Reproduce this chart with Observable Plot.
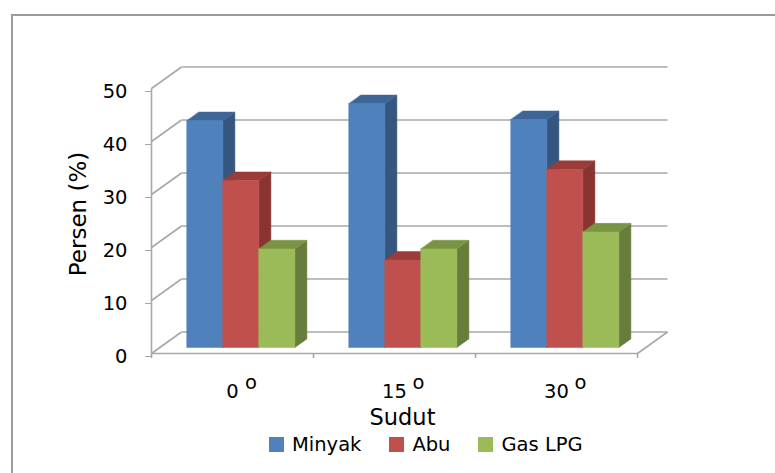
<!DOCTYPE html>
<html><head><meta charset="utf-8">
<script src="https://cdn.jsdelivr.net/npm/d3@7"></script>
<script src="https://cdn.jsdelivr.net/npm/@observablehq/plot@0.6"></script>
<style>
body{margin:0;background:#fff;}
#wrap{position:relative;width:775px;height:473px;overflow:hidden;font-family:"DejaVu Sans",sans-serif;background:#fff;}
#border{position:absolute;left:11px;top:14px;width:800px;height:500px;border-left:2px solid #9b9b9b;border-top:2px solid #9b9b9b;}
#chart{position:absolute;left:0;top:0;}
#legend{position:absolute;left:0;top:428px;width:775px;padding-left:269px;box-sizing:border-box;}
#legend .lg-swatch{margin-right:28px;}
#legend .lg-swatch > svg{margin-right:8px;}
</style></head><body>
<div id="wrap"><div id="border"></div><div id="chart"></div><div id="legend"></div></div>
<script>
// ---- data ----
const categories = ["0", "15", "30"];
const series = ["Minyak", "Abu", "Gas LPG"];
const minyak = [42.8, 46.0, 43.0];
const abu = [31.5, 16.5, 33.6];
const gasLPG = [18.6, 18.6, 21.8];
const yTicks = [0, 10, 20, 30, 40, 50];
const degreeMark = "o";
const xTitle = "Sudut";
const yTitle = "Persen (%)";

// ---- style ----
const frontColors = ["#4F81BD", "#C0504D", "#9BBB59"];
const sideColors  = ["#35577F", "#8A3432", "#687D3B"];
const topColors   = ["#3D6697", "#9A3C39", "#7A9344"];
const gridColor = "#a8a8a8";
const font = "DejaVu Sans, sans-serif";

// ---- layout ----
const W = 775, H = 428;
const mL = 151, mR = 138, mT = 88, mB = 75;
const kx = (W - mL - mR) / categories.length;   // px per category unit
const ky = (H - mT - mB) / 50;                  // px per percent
const wallDX = 30, wallDY = 21.5;               // 3D depth offset (px)
const t0 = 0.28, t1 = 0.68;                     // bar depth range (fraction of wall depth)
const barW = 36 / kx;

const P = (x, y, t) => ({x: x + t * wallDX / kx, y: y + t * wallDY / ky});

// grid segments
const segs = [];
const maxX = categories.length;
for (const t of yTicks) {
  const a = P(0, t, 0), b = P(0, t, 1), c = P(maxX, t, 1);
  segs.push({x1: a.x, y1: a.y, x2: b.x, y2: b.y});
  segs.push({x1: b.x, y1: b.y, x2: c.x, y2: c.y});
}
{
  const a = P(0, 0, 0), b = P(maxX, 0, 0), c = P(maxX, 0, 1);
  segs.push({x1: a.x, y1: a.y, x2: b.x, y2: b.y});
  segs.push({x1: b.x, y1: b.y, x2: c.x, y2: c.y});
  segs.push({x1: 0, y1: 0, x2: 0, y2: yTicks[yTicks.length - 1]});
}

// bar faces
const values = [minyak, abu, gasLPG];
const faces = [];
let fid = 0;
categories.forEach((c, i) => {
  series.forEach((s, j) => {
    const v = values[j][i];
    const xl = i + 0.5 + (j - 1.5) * barW, xr = xl + barW;
    const poly = (pts, fill) => { const id = fid++; pts.forEach(p => faces.push({...p, id, fill})); };
    poly([P(xr, 0, t0), P(xr, 0, t1), P(xr, v, t1), P(xr, v, t0)], sideColors[j]);
    poly([P(xl, v, t0), P(xr, v, t0), P(xr, v, t1), P(xl, v, t1)], topColors[j]);
    poly([P(xl, 0, t0), P(xr, 0, t0), P(xr, v, t0), P(xl, v, t0)], frontColors[j]);
  });
});

const chart = Plot.plot({
  width: W, height: H,
  marginLeft: mL, marginRight: mR, marginTop: mT, marginBottom: mB,
  style: {fontFamily: font, overflow: "visible", background: "transparent"},
  x: {domain: [0, maxX], axis: null},
  y: {domain: [0, 50]},
  color: {type: "identity"},
  marks: [
    Plot.link(segs, {x1: "x1", y1: "y1", x2: "x2", y2: "y2", stroke: gridColor, strokeWidth: 1.6}),
    Plot.ruleX(d3.range(maxX + 1), {x: d => d, y1: 0, y2: -5 / ky, stroke: gridColor, strokeWidth: 1.6}),
    Plot.axisY({ticks: yTicks, tickSize: 6, tickPadding: 18, fontSize: 19.5, stroke: gridColor, fill: "#000", label: null, dy: 3}),
    Plot.line(faces, {x: "x", y: "y", z: "id", fill: "fill", stroke: "fill", strokeWidth: 0.5, curve: "linear-closed"}),
    Plot.text(categories, {x: (d, i) => i + 0.5, y: 0, text: d => d, dy: 44, lineAnchor: "bottom", textAnchor: "middle", fontSize: 19.5, fill: "#000"}),
    Plot.text(categories, {x: (d, i) => i + 0.5 + (5.5 * d.length + 7) / kx, y: 0, text: () => degreeMark, dy: 35, lineAnchor: "bottom", textAnchor: "start", fontSize: 19.5, fill: "#000"}),
    Plot.text([xTitle], {x: maxX / 2, y: 0, text: d => d, dx: 8, dy: 71, lineAnchor: "bottom", textAnchor: "middle", fontSize: 22.5, fill: "#000"}),
    Plot.text([yTitle], {x: 0, y: 25, text: d => d, dx: -73, dy: -7, rotate: -90, textAnchor: "middle", fontSize: 23, fill: "#000"})
  ]
});
document.getElementById("chart").appendChild(chart);

const legend = Plot.legend({
  color: {type: "ordinal", domain: series, range: frontColors},
  legend: "swatches", swatchSize: 15, className: "lg",
  style: {fontSize: "19.5px", fontFamily: font, color: "#000"}
});
document.getElementById("legend").appendChild(legend);
</script>
</body></html>
